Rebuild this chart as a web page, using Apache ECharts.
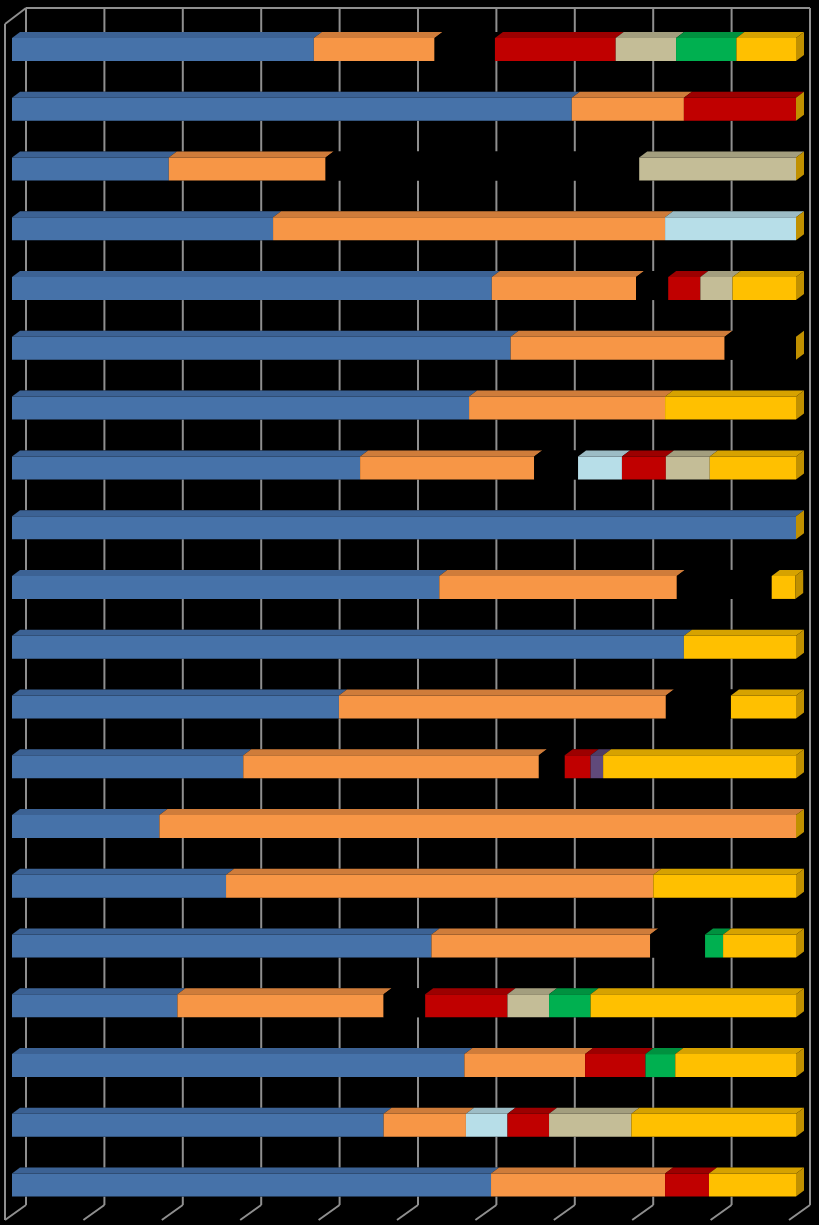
<!DOCTYPE html>
<html>
<head>
<meta charset="utf-8">
<script src="https://cdn.jsdelivr.net/npm/echarts@6/dist/echarts.min.js"></script>
<style>
html, body { margin: 0; padding: 0; background: #000; }
#chart { width: 819px; height: 1225px; }
</style>
</head>
<body>
<div id="chart"></div>
<script>
// 20 rows, 100% stacked, values in percent
const rows = ['1', '2', '3', '4', '5', '6', '7', '8', '9', '10',
  '11', '12', '13', '14', '15', '16', '17', '18', '19', '20']
const ticks = [0, 10, 20, 30, 40, 50, 60, 70, 80, 90, 100]

const serBlue      = [38.5, 71.4, 20, 33.3, 61.2, 63.6, 58.3, 44.4, 100, 54.5, 85.7, 41.7, 29.5, 18.8, 27.3, 53.5, 21.1, 57.7, 47.4, 61.1]
const serOrange    = [15.4, 14.3, 20, 50, 18.4, 27.3, 25, 22.2, 0, 30.3, 0, 41.7, 37.7, 81.2, 54.5, 27.9, 26.3, 15.4, 10.5, 22.2]
const serBlack     = [7.7, 0, 40, 0, 4.1, 9.1, 0, 5.6, 0, 12.1, 0, 8.3, 3.3, 0, 0, 7.0, 5.3, 0, 0, 0]
const serLightBlue = [0, 0, 0, 16.7, 0, 0, 0, 5.6, 0, 0, 0, 0, 0, 0, 0, 0, 0, 0, 5.3, 0]
const serRed       = [15.4, 14.3, 0, 0, 4.1, 0, 0, 5.6, 0, 0, 0, 0, 3.3, 0, 0, 0, 10.5, 7.7, 5.3, 5.6]
const serTan       = [7.7, 0, 20, 0, 4.1, 0, 0, 5.6, 0, 0, 0, 0, 0, 0, 0, 0, 5.3, 0, 10.5, 0]
const serGreen     = [7.7, 0, 0, 0, 0, 0, 0, 0, 0, 0, 0, 0, 0, 0, 0, 2.3, 5.3, 3.8, 0, 0]
const serPurple    = [0, 0, 0, 0, 0, 0, 0, 0, 0, 0, 0, 0, 1.6, 0, 0, 0, 0, 0, 0, 0]
const serYellow    = [7.7, 0, 0, 0, 8.2, 0, 16.7, 11.1, 0, 3.0, 14.3, 8.3, 24.6, 0, 18.2, 9.3, 26.3, 15.4, 21.1, 11.1]

const seriesList = [
  { name: 'A', data: serBlue,      front: '#4672a9', top: '#3c6294' },
  { name: 'B', data: serOrange,    front: '#f79646', top: '#cf7c3a' },
  { name: 'C', data: serBlack,     front: '#000000', top: '#000000' },
  { name: 'D', data: serLightBlue, front: '#b7dee8', top: '#9cbcc5' },
  { name: 'E', data: serRed,       front: '#c00000', top: '#9c0000' },
  { name: 'F', data: serTan,       front: '#c4bd97', top: '#a39e7e' },
  { name: 'G', data: serGreen,     front: '#00b050', top: '#00913f' },
  { name: 'H', data: serPurple,    front: '#604a7b', top: '#4f3d66' },
  { name: 'I', data: serYellow,    front: '#ffc000', top: '#d6a200' }
]

const BAR_H = 23
const DX = 8
const DY = 6
const WALL_TOP = 8
const WALL_BOTTOM = 1205
const WALL_SHIFT = 14
const FLOOR_DX = -21
const FLOOR_DY = 15
const lineStyle = { stroke: '#8f8f8f', lineWidth: 2 }

const chart = echarts.init(document.getElementById('chart'))

// stacked segments: [row, start, end]
const totals = rows.map(() => 0)
const barSeries = seriesList.map((s) => {
  const data = []
  s.data.forEach((v, i) => {
    if (v > 0) data.push([i, totals[i], totals[i] + v])
    totals[i] += v
  })
  return {
    name: s.name,
    type: 'custom',
    z: 5,
    data,
    renderItem: (params, api) => {
      const row = api.value(0)
      const p0 = api.coord([api.value(1), row])
      const p1 = api.coord([Math.min(api.value(2), 100), row])
      const top = p0[1] - BAR_H / 2
      return {
        type: 'group',
        children: [
          { type: 'rect', shape: { x: p0[0], y: top, width: p1[0] - p0[0], height: BAR_H },
            style: { fill: s.front } },
          { type: 'polygon', shape: { points: [[p0[0], top], [p1[0], top], [p1[0] + DX, top - DY], [p0[0] + DX, top - DY]] },
            style: { fill: s.top } }
        ]
      }
    }
  }
})

const sideSeries = {
  name: 'side',
  type: 'custom',
  z: 5,
  data: rows.map((r, i) => [i, Math.min(totals[i], 100)]),
  renderItem: (params, api) => {
    const p = api.coord([api.value(1), api.value(0)])
    const top = p[1] - BAR_H / 2
    const bottom = p[1] + BAR_H / 2
    return {
      type: 'polygon',
      shape: { points: [[p[0], top], [p[0] + DX, top - DY], [p[0] + DX, bottom - DY], [p[0], bottom]] },
      style: { fill: '#c09000' }
    }
  }
}

// back wall gridlines: only the parts not hidden behind the bars
const wallSeries = {
  name: 'walls',
  type: 'custom',
  z: 1,
  data: ticks.map(t => [t]),
  renderItem: (params, api) => {
    const v = api.value(0)
    const x = api.coord([v, 0])[0] + WALL_SHIFT
    const children = []
    const seg = (y1, y2) => children.push({ type: 'line', shape: { x1: x, y1, x2: x, y2 }, style: lineStyle })
    if (v >= 100) {
      seg(WALL_TOP, WALL_BOTTOM)
    } else {
      let y = WALL_TOP
      rows.forEach((r, i) => {
        const c = api.coord([v, i])[1]
        seg(y, c - BAR_H / 2 - DY)
        y = c + BAR_H / 2
      })
      seg(y, WALL_BOTTOM)
    }
    // floor diagonal
    children.push({ type: 'line', shape: { x1: x, y1: WALL_BOTTOM, x2: x + FLOOR_DX, y2: WALL_BOTTOM + FLOOR_DY }, style: lineStyle })
    if (params.dataIndex === 0) {
      const xr = api.coord([100, 0])[0] + WALL_SHIFT
      children.push(
        { type: 'line', shape: { x1: x, y1: WALL_TOP, x2: xr, y2: WALL_TOP }, style: lineStyle },
        { type: 'line', shape: { x1: x, y1: WALL_TOP, x2: x + FLOOR_DX, y2: WALL_TOP + FLOOR_DY + 1 }, style: lineStyle },
        { type: 'line', shape: { x1: x + FLOOR_DX, y1: WALL_TOP + FLOOR_DY + 1, x2: x + FLOOR_DX, y2: WALL_BOTTOM + FLOOR_DY }, style: lineStyle }
      )
    }
    return { type: 'group', children }
  }
}

chart.setOption({
  backgroundColor: '#000000',
  animation: false,
  grid: { left: 12, right: 23, top: 19.6, bottom: 10 },
  xAxis: { type: 'value', min: 0, max: 100, show: false },
  yAxis: { type: 'category', data: rows, inverse: true, show: false },
  series: [wallSeries, ...barSeries, sideSeries]
})
</script>
</body>
</html>
